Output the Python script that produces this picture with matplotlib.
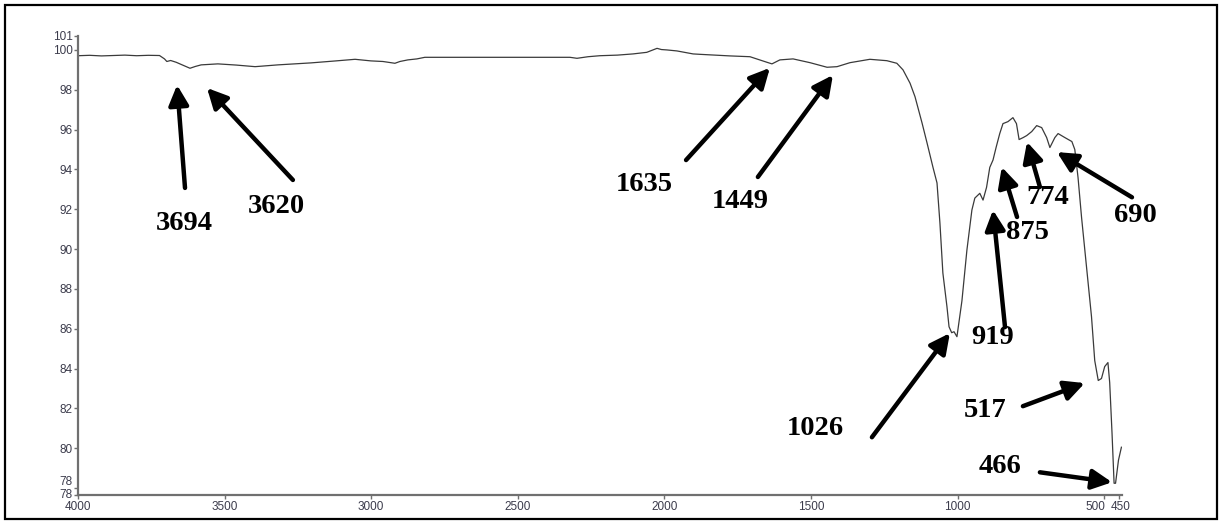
import matplotlib
matplotlib.use("Agg")
import matplotlib.pyplot as plt
from matplotlib.patches import Rectangle
from matplotlib.transforms import ScaledTranslation

# FTIR spectrum: wavenumber (cm-1) and transmittance (%)
wavenumber = [4000, 3960, 3920, 3880, 3840, 3800, 3760, 3722, 3705, 3697,
              3684, 3665, 3640, 3618, 3600, 3580, 3523, 3460, 3396, 3318,
              3205, 3120, 3055, 3001, 2960, 2919, 2902, 2875, 2844, 2817,
              2600, 2322, 2298, 2260, 2220, 2160, 2107, 2060, 2025, 2010,
              1991, 1957, 1902, 1879, 1776, 1708, 1650, 1633, 1606, 1561,
              1503, 1445, 1411, 1367, 1299, 1241, 1207, 1186, 1162, 1145,
              1121, 1104, 1084, 1070, 1060, 1050, 1036, 1029, 1020, 1012,
              1002, 985, 968, 951, 941, 924, 913, 901, 890, 879,
              868, 856, 845, 828, 811, 799, 790, 776, 764, 747,
              730, 713, 696, 685, 668, 657, 634, 610, 600, 589,
              577, 560, 543, 532, 520, 509, 498, 487, 481, 473,
              466, 461, 451, 441]
transmittance = [99.71, 99.73, 99.70, 99.72, 99.74, 99.71, 99.73, 99.72, 99.55, 99.42,
                 99.47, 99.38, 99.22, 99.08, 99.17, 99.25, 99.30, 99.24, 99.16, 99.25,
                 99.35, 99.45, 99.53, 99.45, 99.42, 99.33, 99.42, 99.50, 99.55, 99.63,
                 99.63, 99.63, 99.58, 99.66, 99.71, 99.74, 99.80, 99.88, 100.08, 100.02,
                 100.00, 99.95, 99.80, 99.78, 99.70, 99.66, 99.38, 99.30, 99.50, 99.55,
                 99.36, 99.13, 99.16, 99.36, 99.53, 99.46, 99.33, 99.00, 98.33, 97.65,
                 96.33, 95.33, 94.12, 93.32, 91.30, 88.80, 87.10, 86.10, 85.80, 85.85,
                 85.60, 87.40, 89.95, 91.96, 92.56, 92.80, 92.46, 93.10, 94.10, 94.47,
                 95.13, 95.80, 96.30, 96.40, 96.60, 96.30, 95.50, 95.60, 95.70, 95.90,
                 96.20, 96.10, 95.60, 95.10, 95.60, 95.80, 95.60, 95.40, 95.00, 93.60,
                 91.60, 89.10, 86.60, 84.40, 83.40, 83.50, 84.10, 84.30, 83.30, 80.75,
                 78.24, 78.24, 79.40, 80.05]

# band labels: (text, arrow head, arrow tail, label position) in (cm-1, %T)
bands = [
    ("3694", (3662, 98.24), (3635, 93.07), (3638, 91.26)),
    ("3620", (3560, 98.09), (3267, 93.47), (3325, 92.16)),
    ("1635", (1640, 99.10), (1926, 94.47), (2070, 93.22)),
    ("1449", (1425, 98.74), (1681, 93.62), (1742, 92.41)),
    ("1026", (1026, 85.78), (1292, 80.55), (1486, 81.00)),
    ("919", (879, 91.96), (838, 86.08), (879, 85.58)),
    ("875", (849, 94.12), (797, 91.61), (763, 90.85)),
    ("774", (763, 95.38), (719, 93.12), (692, 92.60)),
    ("690", (661, 94.87), (405, 92.60), (393, 91.70)),
    ("517", (566, 83.27), (777, 82.11), (907, 81.90)),
    ("466", (473, 78.29), (719, 78.79), (855, 79.10)),
]

fig = plt.figure(figsize=(12.21, 5.22), dpi=100)
fig.patches.append(Rectangle((5 / 1221, 3 / 522), 1212 / 1221, 514 / 522,
                             transform=fig.transFigure, fill=False,
                             lw=1.6, ec="black"))

ax = fig.add_axes([78 / 1221, 27 / 522, 1044 / 1221, 459 / 522])
ax.plot(wavenumber, transmittance, color="#3a3a3a", lw=0.9)

ax.set_xlim(4000, 439)
ax.set_ylim(77.65, 100.7)

xt = [4000, 3500, 3000, 2500, 2000, 1500, 1000, 500, 450]
ax.set_xticks(xt)
ax.set_xticklabels([str(v) for v in xt])
yt = [77.65, 78, 80, 82, 84, 86, 88, 90, 92, 94, 96, 98, 100, 100.7]
ax.set_yticks(yt)
ax.set_yticklabels(["78", "78", "80", "82", "84", "86", "88", "90", "92",
                    "94", "96", "98", "100", "101"])

for side in ("top", "right"):
    ax.spines[side].set_visible(False)
for side in ("left", "bottom"):
    ax.spines[side].set_color("#707070")
    ax.spines[side].set_linewidth(1.6)
ax.tick_params(length=3, width=1, color="#707070", labelsize=8.5,
               labelcolor="#3c3c4c", pad=1)
for lab in ax.get_xticklabels() + ax.get_yticklabels():
    lab.set_family("Liberation Sans")


def nudge(label, dx, dy):
    label.set_transform(label.get_transform()
                        + ScaledTranslation(dx / 100, dy / 100, fig.dpi_scale_trans))


# keep the crowded end labels apart
xl = ax.get_xticklabels()
xl[-2].set_ha("right")
nudge(xl[-2], 1, 0)
xl[-1].set_ha("left")
nudge(xl[-1], -8, 0)
yl = ax.get_yticklabels()
nudge(yl[0], 0, 2)
nudge(yl[1], 0, 8)
nudge(yl[-1], 0, 1)

for text, head, tail, pos in bands:
    ax.annotate("", xy=head, xytext=tail, annotation_clip=False,
                arrowprops=dict(arrowstyle="-|>,head_length=0.6,head_width=0.3",
                                mutation_scale=20, lw=3.2, color="black",
                                shrinkA=0, shrinkB=0))
    ax.text(pos[0], pos[1], text, ha="center", va="center", clip_on=False,
            family="Liberation Serif", fontweight="bold", fontsize=20.5)

fig.savefig("out.png", dpi=100)
